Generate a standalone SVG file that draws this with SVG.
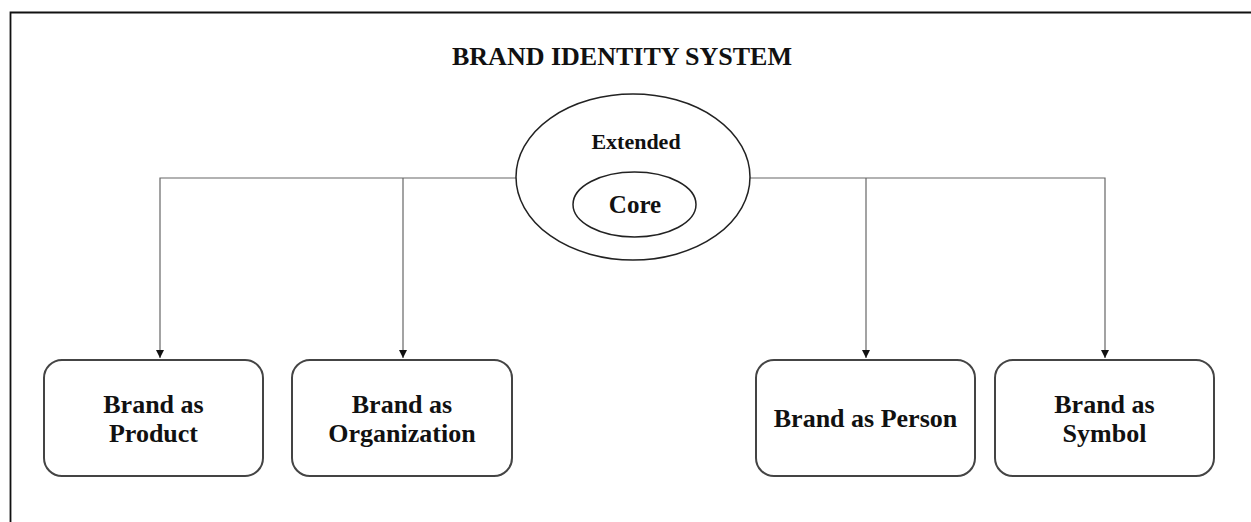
<svg xmlns="http://www.w3.org/2000/svg" width="1251" height="522" viewBox="0 0 1251 522">
<style>
text{font-family:"Liberation Serif","Times New Roman",serif;font-weight:bold;fill:#111;text-anchor:middle}
.box{fill:#fff;stroke:#444;stroke-width:2}
.ell{fill:#fff;stroke:#222;stroke-width:1.5}
.conn{fill:none;stroke:#666;stroke-width:1.2}
.lbl{font-size:26px}
</style>
<defs>
<marker id="arr" viewBox="0 0 10 10" refX="10" refY="5" markerWidth="8" markerHeight="8" markerUnits="userSpaceOnUse" orient="auto">
<path d="M0,0 L10,5 L0,10 z" fill="#111"/>
</marker>
</defs>
<rect width="1251" height="522" fill="#fff"/>
<path d="M10.5,522 V12.5 H1251" fill="none" stroke="#111" stroke-width="1.8"/>
<text x="622" y="65" style="font-size:26px">BRAND IDENTITY SYSTEM</text>
<g id="connectors">
<path class="conn" d="M516,178 H160 V358" marker-end="url(#arr)"/>
<path class="conn" d="M403,178 V358" marker-end="url(#arr)"/>
<path class="conn" d="M750,178 H1105 V358" marker-end="url(#arr)"/>
<path class="conn" d="M866,178 V358" marker-end="url(#arr)"/>
</g>
<g id="identity">
<ellipse class="ell" cx="633" cy="177" rx="117" ry="83"/>
<text x="636" y="149" style="font-size:22px">Extended</text>
<ellipse class="ell" cx="634.5" cy="204.5" rx="61.5" ry="32.5"/>
<text x="635" y="213" style="font-size:25px">Core</text>
</g>
<g id="product">
<rect class="box" x="44" y="360" width="219" height="116" rx="18"/>
<text class="lbl" x="153.5" y="413">Brand as</text>
<text class="lbl" x="153.5" y="442">Product</text>
</g>
<g id="organization">
<rect class="box" x="292" y="360" width="220" height="116" rx="18"/>
<text class="lbl" x="402" y="413">Brand as</text>
<text class="lbl" x="402" y="442">Organization</text>
</g>
<g id="person">
<rect class="box" x="756" y="360" width="219" height="116" rx="18"/>
<text class="lbl" x="865.5" y="427">Brand as Person</text>
</g>
<g id="symbol">
<rect class="box" x="995" y="360" width="219" height="116" rx="18"/>
<text class="lbl" x="1104.5" y="413">Brand as</text>
<text class="lbl" x="1104.5" y="442">Symbol</text>
</g>
</svg>
